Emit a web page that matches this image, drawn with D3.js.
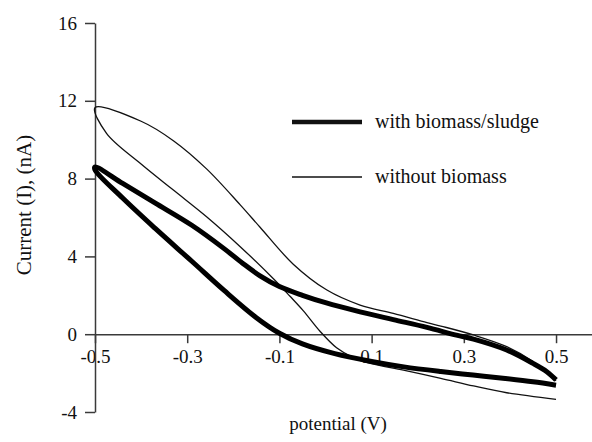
<!DOCTYPE html>
<html><head><meta charset="utf-8">
<script src="https://cdn.jsdelivr.net/npm/d3@7"></script>
<style>
html,body{margin:0;padding:0;background:#fff;}
svg{display:block;font-family:"Liberation Serif","Times New Roman",serif;}
</style></head>
<body><svg id="c" width="592" height="442"></svg>
<script>
// ---- data ----
const xTicks = [-0.5, -0.3, -0.1, 0.1, 0.3, 0.5];
const yTicks = [-4, 0, 4, 8, 12, 16];
const seriesNames = ["with biomass/sludge", "without biomass"];
// with biomass/sludge: return branch (0.5 -> -0.5) then forward branch (-0.5 -> 0.5)
const withPotential = [0.5, 0.48, 0.45, 0.393, 0.321, 0.284, 0.22, 0.147, 0.075, 0.0, -0.05, -0.1, -0.142, -0.18, -0.22, -0.29, -0.37, -0.44, -0.5,
                       -0.5, -0.44, -0.37, -0.29, -0.22, -0.15, -0.1, -0.05, 0.02, 0.1, 0.17, 0.25, 0.32, 0.39, 0.45, 0.5];
const withCurrent   = [-2.35, -1.93, -1.5, -0.81, -0.25, -0.05, 0.35, 0.75, 1.15, 1.62, 2.0, 2.45, 3.0, 3.65, 4.4, 5.6, 6.75, 7.75, 8.6,
                       8.45, 7.0, 5.45, 3.75, 2.25, 0.85, 0.05, -0.5, -1.0, -1.4, -1.68, -1.92, -2.1, -2.28, -2.45, -2.62];
// without biomass: return branch then forward branch (open at +0.5)
const withoutPotential = [0.5, 0.45, 0.393, 0.321, 0.25, 0.22, 0.147, 0.075, 0.003, -0.07, -0.142, -0.185, -0.258, -0.33, -0.4, -0.5,
                          -0.475, -0.402, -0.33, -0.258, -0.185, -0.113, -0.077, -0.048, -0.012, 0.024, 0.06, 0.097, 0.169, 0.25, 0.321, 0.393, 0.5];
const withoutCurrent   = [-2.4, -1.4, -0.64, -0.04, 0.42, 0.6, 1.07, 1.5, 2.27, 3.6, 5.5, 6.65, 8.5, 9.95, 10.95, 11.65,
                          10.33, 8.79, 7.41, 6.04, 4.5, 2.85, 1.95, 1.2, 0.15, -0.7, -1.2, -1.5, -1.85, -2.27, -2.66, -3.01, -3.35];

// ---- chart ----
const svg = d3.select("#c");
const x = d3.scaleLinear().domain([-0.5, 0.578]).range([95, 592]);
const y = d3.scaleLinear().domain([-4, 16]).range([412, 23]);
const axisColor = "#3a3a3a";

const fmt = d => d3.format(".1f")(d).replace("\u2212", "-");

const gx = svg.append("g").attr("transform", `translate(0,${y(0)})`)
  .call(d3.axisBottom(x).tickValues(xTicks).tickSize(9).tickSizeOuter(0).tickFormat(fmt));
gx.attr("font-family", null);
gx.select(".domain").attr("stroke", axisColor).attr("stroke-width", 1.5);
gx.selectAll(".tick line").attr("stroke", axisColor).attr("stroke-width", 1.5);
gx.selectAll(".tick text").attr("fill", "#111").attr("font-size", 19)
  .attr("y", 15).attr("dy", "0.71em");

const gy = svg.append("g").attr("transform", `translate(${x(-0.5)},0)`)
  .call(d3.axisLeft(y).tickValues(yTicks).tickSize(10).tickSizeOuter(0).tickFormat(d => String(d)));
gy.attr("font-family", null);
gy.select(".domain").attr("stroke", axisColor).attr("stroke-width", 1.5);
gy.selectAll(".tick line").attr("stroke", axisColor).attr("stroke-width", 1.5);
gy.selectAll(".tick text").attr("fill", "#111").attr("font-size", 19).attr("x", -18);

const line = d3.line().x(d => x(d[0])).y(d => y(d[1])).curve(d3.curveCatmullRom.alpha(0.5));
const withData = withPotential.map((p, i) => [p, withCurrent[i]]);
const withoutData = withoutPotential.map((p, i) => [p, withoutCurrent[i]]);

svg.append("path").datum(withoutData).attr("d", line)
  .attr("fill", "none").attr("stroke", "#111").attr("stroke-width", 1.3);
svg.append("path").datum(withData).attr("d", line)
  .attr("fill", "none").attr("stroke", "#000").attr("stroke-width", 5).attr("stroke-linejoin", "round");

// legend
const legend = svg.append("g");
const legendRows = [{w: 4.5, y: 122}, {w: 1.3, y: 177}];
seriesNames.forEach((name, i) => {
  legend.append("line").attr("x1", 292).attr("x2", 362)
    .attr("y1", legendRows[i].y).attr("y2", legendRows[i].y)
    .attr("stroke", "#111").attr("stroke-width", legendRows[i].w);
  legend.append("text").attr("x", 375).attr("y", legendRows[i].y + 6)
    .attr("font-size", 20).attr("fill", "#111").text(name);
});

// axis titles
svg.append("text").attr("x", 338).attr("y", 430).attr("text-anchor", "middle")
  .attr("font-size", 19).attr("fill", "#111").text("potential (V)");
svg.append("text").attr("transform", "translate(31,205) rotate(-90)")
  .attr("text-anchor", "middle").attr("font-size", 21).attr("fill", "#111")
  .text("Current (I), (nA)");
</script></body></html>
